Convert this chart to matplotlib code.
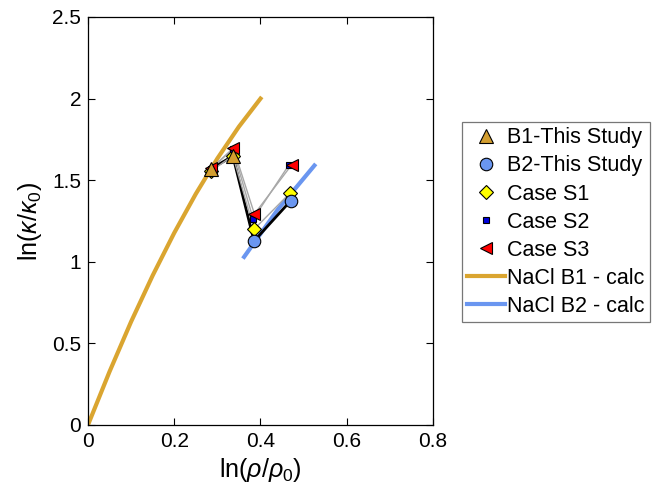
import numpy as np
import matplotlib
matplotlib.use("Agg")
import matplotlib.pyplot as plt

plt.rcParams['font.family'] = ['Liberation Sans', 'DejaVu Sans']
plt.rcParams['mathtext.fontset'] = 'custom'
plt.rcParams['mathtext.rm'] = 'Liberation Sans'
plt.rcParams['mathtext.it'] = 'Liberation Sans:italic'

# measured points (ln(rho/rho0), ln(kappa/kappa0))
b1_x = [0.285, 0.336]
b1_y = [1.569, 1.648]
b2_x = [0.385, 0.470]
b2_y = [1.127, 1.374]

s1_x = [0.285, 0.336, 0.385, 0.469]
s1_y = [1.555, 1.650, 1.199, 1.423]
s2_x = [0.285, 0.336, 0.383, 0.465]
s2_y = [1.570, 1.690, 1.262, 1.590]
s3_x = [0.286, 0.337, 0.386, 0.472]
s3_y = [1.572, 1.697, 1.293, 1.593]

# calculated curves
nacl_b1_x = [0.0, 0.05, 0.10, 0.15, 0.20, 0.25, 0.30, 0.35, 0.40]
nacl_b1_y = [0.0, 0.327, 0.633, 0.916, 1.177, 1.416, 1.633, 1.828, 2.0]
nacl_b2_x = [0.362, 0.44, 0.525]
nacl_b2_y = [1.03, 1.32, 1.59]

gold = '#DAA530'
blue = '#6A96F0'

fig = plt.figure(figsize=(6.56, 4.98), dpi=100)
ax = fig.add_axes([0.1341, 0.1466, 0.526, 0.8193])

ax.plot(nacl_b1_x, nacl_b1_y, color=gold, lw=3, zorder=2, label='NaCl B1 - calc')
ax.plot(nacl_b2_x, nacl_b2_y, color=blue, lw=3, zorder=2, label='NaCl B2 - calc')

# connecting lines
ax.plot(b1_x + b2_x, b1_y + b2_y, color='black', lw=2, zorder=3)
for xs, ys in [(s1_x, s1_y), (s2_x, s2_y), (s3_x, s3_y)]:
    ax.plot(xs, ys, color='#A8A8A8', lw=1.0, zorder=3)

h_s1, = ax.plot(s1_x, s1_y, 'D', ms=7, mfc='#FFFF00', mec='black', mew=0.8, ls='none', zorder=4, label='Case S1')
h_s2, = ax.plot(s2_x, s2_y, 's', ms=5, mfc='#0000DD', mec='black', mew=0.8, ls='none', zorder=5, label='Case S2')
h_s3, = ax.plot(s3_x, s3_y, '<', ms=9, mfc='#FF0000', mec='black', mew=0.8, ls='none', zorder=6, label='Case S3')
h_b1, = ax.plot(b1_x, b1_y, '^', ms=10, mfc='#D39E30', mec='black', mew=0.8, ls='none', zorder=7, label='B1-This Study')
h_b2, = ax.plot(b2_x, b2_y, 'o', ms=9, mfc=blue, mec='black', mew=0.8, ls='none', zorder=7, label='B2-This Study')

ax.set_xlim(0, 0.8)
ax.set_ylim(0, 2.5)
ax.set_xticks([0, 0.2, 0.4, 0.6, 0.8])
ax.set_xticklabels(['0', '0.2', '0.4', '0.6', '0.8'])
ax.set_yticks([0, 0.5, 1, 1.5, 2, 2.5])
ax.set_yticklabels(['0', '0.5', '1', '1.5', '2', '2.5'])
ax.tick_params(direction='in', top=True, right=True, length=5, width=0.8, labelsize=15, pad=5)
for sp in ax.spines.values():
    sp.set_linewidth(0.9)

ax.set_xlabel(r'ln($\rho/\rho_0$)', fontsize=18, labelpad=4)
ax.set_ylabel(r'ln($\kappa/\kappa_0$)', fontsize=18, labelpad=6)

lines = ax.get_lines()
handles = [h_b1, h_b2, h_s1, h_s2, h_s3, lines[0], lines[1]]
leg = fig.legend(handles=handles, loc='center left', bbox_to_anchor=(0.704, 0.554),
                 fontsize=15.5, frameon=True, fancybox=False, handlelength=1.75,
                 handletextpad=0.12, labelspacing=0.33, borderpad=0.25, borderaxespad=0)
leg.get_frame().set_edgecolor('#555555')
leg.get_frame().set_linewidth(0.9)

fig.savefig('out.png', dpi=100)
